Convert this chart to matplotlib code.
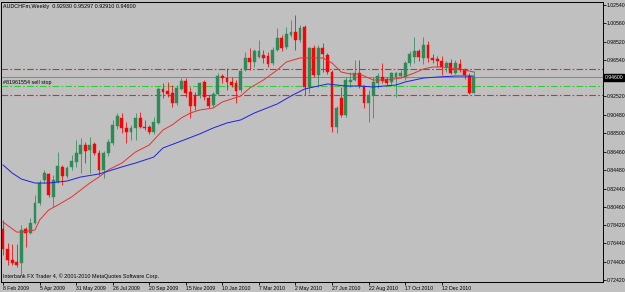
import numpy as np
import matplotlib
matplotlib.use("Agg")
import matplotlib.pyplot as plt
import matplotlib.transforms as mtrans

plt.rcParams['font.family'] = ['Liberation Sans', 'DejaVu Sans']

# weekly AUDCHFm candles, bar 0 = week of 8 Feb 2009
opens = [0.780, 0.758, 0.746, 0.744, 0.7428, 0.780, 0.776, 0.787, 0.8085, 0.8337,
         0.8403, 0.815, 0.831, 0.848, 0.838, 0.848, 0.8535, 0.8622, 0.872, 0.8666,
         0.8731, 0.8633, 0.8447, 0.8633, 0.8742, 0.893, 0.902, 0.8907, 0.886, 0.891,
         0.902, 0.892, 0.8918, 0.886, 0.896, 0.9334, 0.931, 0.929, 0.918, 0.9334,
         0.942, 0.930, 0.9268, 0.9268, 0.941, 0.9235, 0.9159, 0.928, 0.9476, 0.9454,
         0.941, 0.940, 0.9323, 0.9542, 0.9674, 0.963, 0.9685, 0.9706, 0.9695, 0.9619,
         0.976, 0.9893, 0.9794, 0.9925, 0.9958, 0.987, 1.0013, 0.9356, 0.978, 0.9487,
         0.978, 0.9706, 0.952, 0.8918, 0.9235, 0.905, 0.9412, 0.9433, 0.951, 0.9367,
         0.918, 0.9268, 0.940, 0.9465, 0.9443, 0.941, 0.9465, 0.9475, 0.9465, 0.962,
         0.9685, 0.975, 0.9674, 0.9816, 0.9674, 0.966, 0.9641, 0.9575, 0.962, 0.951,
         0.9608, 0.954, 0.9476, 0.9293]
highs = [0.790, 0.765, 0.764, 0.7636, 0.7844, 0.7823, 0.792, 0.8173, 0.834, 0.8447,
         0.8418, 0.8392, 0.8644, 0.8502, 0.849, 0.8611, 0.8775, 0.8794, 0.8757, 0.8812,
         0.8757, 0.8666, 0.866, 0.879, 0.8995, 0.9071, 0.9068, 0.8976, 0.894, 0.9068,
         0.9079, 0.8994, 0.894, 0.9031, 0.9359, 0.9396, 0.9414, 0.9378, 0.9378, 0.9451,
         0.945, 0.9359, 0.9304, 0.9414, 0.9433, 0.9268, 0.9304, 0.9506, 0.950, 0.9561,
         0.9469, 0.9433, 0.9561, 0.9743, 0.978, 0.9775, 0.987, 0.9761, 0.9743, 0.9797,
         1.000, 0.9925, 1.0016, 1.009, 1.0144, 1.0035, 1.0035, 0.9797, 0.9816, 0.9816,
         0.9834, 0.9725, 0.9542, 0.915, 0.9359, 0.9469, 0.9524, 0.9652, 0.9652, 0.9378,
         0.9323, 0.9469, 0.9506, 0.9615, 0.9469, 0.9524, 0.9524, 0.9542, 0.9637, 0.9745,
         0.9903, 0.9772, 0.9903, 0.986, 0.972, 0.969, 0.9696, 0.9645, 0.966, 0.9652,
         0.966, 0.956, 0.9513, 0.95297]
lows = [0.752, 0.741, 0.741, 0.7385, 0.7297, 0.7603, 0.775, 0.786, 0.806, 0.8304,
        0.8154, 0.804, 0.830, 0.8282, 0.836, 0.8447, 0.8483, 0.8414, 0.8523, 0.8414,
        0.8611, 0.8392, 0.836, 0.860, 0.872, 0.890, 0.8849, 0.874, 0.8775, 0.8775,
        0.8903, 0.8885, 0.8838, 0.8838, 0.895, 0.9232, 0.925, 0.914, 0.9159, 0.9323,
        0.925, 0.9016, 0.9104, 0.9232, 0.9213, 0.9122, 0.914, 0.9268, 0.9396, 0.9323,
        0.9359, 0.918, 0.9304, 0.953, 0.9542, 0.9578, 0.967, 0.9615, 0.9578, 0.9597,
        0.9745, 0.9745, 0.9776, 0.9907, 0.9761, 0.9852, 0.9268, 0.9287, 0.9469, 0.9359,
        0.9524, 0.950, 0.8863, 0.8852, 0.903, 0.903, 0.9359, 0.942, 0.9342, 0.9122,
        0.8973, 0.9013, 0.9342, 0.9396, 0.9378, 0.9375, 0.9246, 0.9455, 0.943, 0.9585,
        0.962, 0.964, 0.9608, 0.963, 0.9615, 0.958, 0.9483, 0.952, 0.9494, 0.9494,
        0.9524, 0.944, 0.928, 0.9291]
closes = [0.758, 0.746, 0.743, 0.7405, 0.779, 0.776, 0.787, 0.8085, 0.830, 0.8414,
          0.817, 0.834, 0.849, 0.838, 0.847, 0.854, 0.8633, 0.872, 0.8655, 0.8725,
          0.8633, 0.8447, 0.8633, 0.8754, 0.894, 0.904, 0.8907, 0.886, 0.8907, 0.902,
          0.8918, 0.891, 0.886, 0.8973, 0.9334, 0.930, 0.928, 0.918, 0.9345, 0.942,
          0.929, 0.9148, 0.9148, 0.940, 0.9246, 0.9148, 0.928, 0.9476, 0.9454, 0.941,
          0.9378, 0.931, 0.953, 0.9674, 0.963, 0.975, 0.975, 0.9674, 0.9608, 0.976,
          0.9893, 0.978, 0.9936, 0.9958, 0.987, 1.000, 0.9356, 0.978, 0.9487, 0.978,
          0.972, 0.952, 0.8918, 0.9126, 0.905, 0.9433, 0.9433, 0.951, 0.9367, 0.918,
          0.9268, 0.941, 0.9476, 0.942, 0.940, 0.951, 0.951, 0.9513, 0.962, 0.972,
          0.975, 0.9685, 0.9816, 0.9674, 0.9652, 0.9637, 0.9575, 0.962, 0.951, 0.962,
          0.954, 0.9487, 0.9293, 0.946]

# moving averages (bar index, price)
red_ma_bar = [0, 3, 4, 7, 8, 10, 12, 15, 17, 19, 21, 23, 26, 29, 32, 33, 35, 37, 39, 41,
              43, 46, 48, 50, 52, 54, 57, 60, 62, 65, 67, 70, 72, 74, 76, 78, 81, 84, 87,
              90, 92, 94, 96, 98, 100, 103]
red_ma = [0.7877, 0.7767, 0.7767, 0.7790, 0.7899, 0.8009, 0.8063, 0.8151, 0.8228, 0.8304,
          0.8370, 0.8447, 0.8523, 0.8644, 0.8721, 0.8775, 0.8885, 0.8940, 0.9016, 0.9071,
          0.9104, 0.9126, 0.9192, 0.9225, 0.9257, 0.9345, 0.9433, 0.9542, 0.9630, 0.9674,
          0.9674, 0.9674, 0.9619, 0.9520, 0.9498, 0.9498, 0.9433, 0.9433, 0.9454, 0.9509,
          0.9553, 0.9575, 0.9575, 0.9564, 0.9553, 0.9520]
blue_ma_bar = [0, 2, 4, 7, 10, 14, 17, 21, 26, 29, 33, 35, 39, 43, 46, 49, 52, 55, 60, 63,
               66, 69, 71, 75, 78, 81, 86, 88, 92, 95, 99, 103]
blue_ma = [0.8502, 0.8414, 0.8348, 0.8304, 0.8304, 0.8326, 0.8370, 0.8403, 0.8480, 0.8523,
           0.8589, 0.8688, 0.8764, 0.8841, 0.8907, 0.8962, 0.8995, 0.9071, 0.9170, 0.9257,
           0.9334, 0.9367, 0.9389, 0.9367, 0.9367, 0.9356, 0.9378, 0.9411, 0.9454, 0.9465,
           0.9476, 0.9476]

# order levels
stop_loss = 0.9553
sell_stop = 0.9367
take_profit = 0.9268
bid = 0.94600

price_ticks = [1.02540, 1.00560, 0.98520, 0.96540, 0.92520, 0.90480, 0.88500, 0.86460,
               0.84480, 0.82440, 0.80460, 0.78420, 0.76440, 0.74400, 0.72420]
date_bars = [0, 8, 16, 24, 32, 40, 48, 56, 64, 72, 80, 88, 96]
date_labels = ["8 Feb 2009", "5 Apr 2009", "31 May 2009", "26 Jul 2009", "20 Sep 2009",
               "15 Nov 2009", "10 Jan 2010", "7 Mar 2010", "2 May 2010", "27 Jun 2010",
               "22 Aug 2010", "17 Oct 2010", "12 Dec 2010"]

bg = '#C0C0C0'
bull = '#2E8B57'
bear = '#FF0000'
fs = 3.7

fig = plt.figure(figsize=(6.25, 2.92), dpi=100, facecolor=bg)
ax = fig.add_axes([1/625, 10/292, 602/625, 280/292], facecolor=bg)

o = np.array(opens); h = np.array(highs); l = np.array(lows); c = np.array(closes)
idx = np.arange(len(o))
up = c >= o
cols = np.where(up, bull, bear)

ax.vlines(idx, l, h, colors=cols, lw=0.55, zorder=3)
ax.bar(idx, np.abs(c - o), bottom=np.minimum(o, c), width=0.62, color=cols,
       edgecolor=cols, lw=0.3, zorder=4)

ax.plot(red_ma_bar, red_ma, color='#E83030', lw=0.7, zorder=5)
ax.plot(blue_ma_bar, blue_ma, color='#2020E0', lw=0.7, zorder=5)

dd = (6, 2, 1.5, 2)
ax.axhline(stop_loss, color='#E82828', lw=0.8, dashes=dd, zorder=2)
ax.axhline(take_profit, color='#E82828', lw=0.8, dashes=dd, zorder=2)
ax.axhline(sell_stop, color='#33CC33', lw=0.8, dashes=dd, zorder=2)
ax.axhline(bid, color='#778899', lw=0.7, zorder=2)

ax.set_xlim(-0.44, 131.29)
ax.set_ylim(0.72201, 1.02869)

ax.yaxis.tick_right()
ax.set_yticks(price_ticks)
ax.set_yticklabels(["%.5f" % p for p in price_ticks])
ax.set_xticks(date_bars)
ax.set_xticklabels(date_labels)
ax.tick_params(axis='both', labelsize=fs, length=2.0, width=0.6, pad=0.6, colors='black')
for lab in ax.get_xticklabels():
    lab.set_ha('left')
for sp in ax.spines.values():
    sp.set_color('black')
    sp.set_linewidth(0.7)

tr = mtrans.blended_transform_factory(ax.transAxes, ax.transData)
ax.text(1.0035, bid, "0.94600", transform=tr, fontsize=fs, color='white', va='center',
        ha='left', bbox=dict(boxstyle='square,pad=0.12', fc='black', ec='black'), zorder=6)

ax.text(0.004, 0.993, "AUDCHFm,Weekly  0.92930 0.95297 0.92910 0.94600", transform=ax.transAxes,
        fontsize=3.9, va='top', ha='left')
ax.text(0.004, sell_stop + 0.0015, "#81961554 sell stop", transform=tr, fontsize=3.9,
        va='bottom', ha='left')
ax.text(0.004, 0.01, "Interbank FX Trader 4, \u00a9 2001-2010 MetaQuotes Software Corp.",
        transform=ax.transAxes, fontsize=3.9, va='bottom', ha='left')

fig.savefig("out.png", dpi=100, facecolor=bg)
